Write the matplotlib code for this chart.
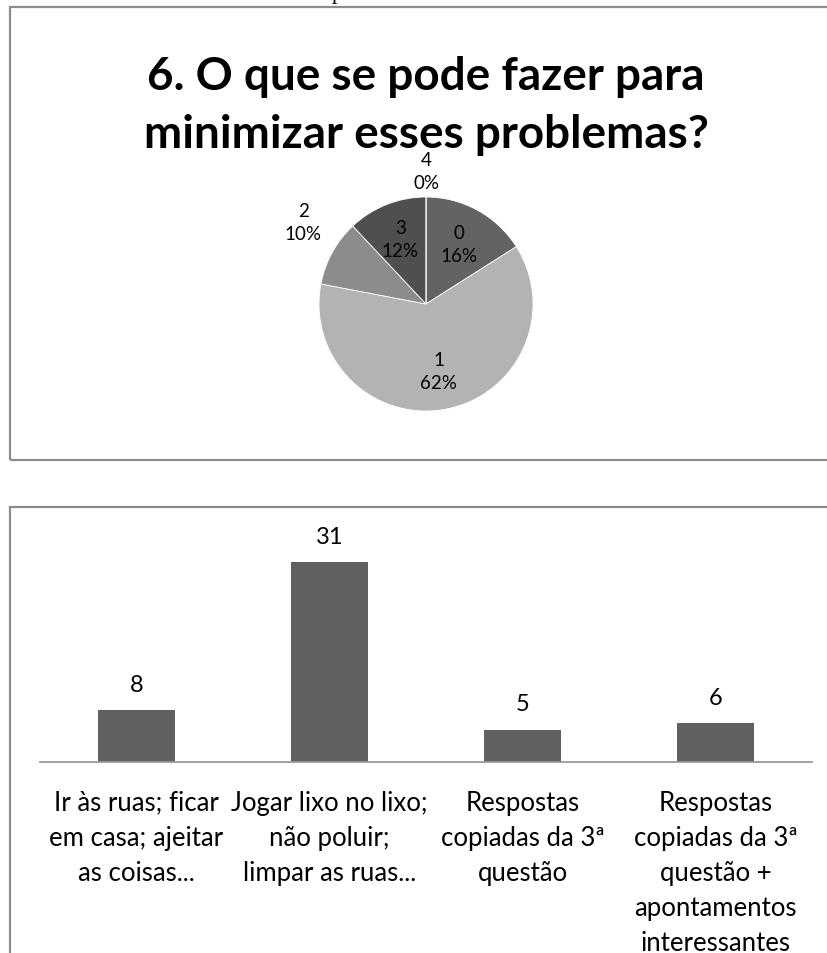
import matplotlib
matplotlib.use("Agg")
import matplotlib.pyplot as plt
import numpy as np
from matplotlib.patches import Rectangle

# answers to question 6
categories = [
    "Ir às ruas; ficar\nem casa; ajeitar\nas coisas...",
    "Jogar lixo no lixo;\nnão poluir;\nlimpar as ruas...",
    "Respostas\ncopiadas da 3ª\nquestão",
    "Respostas\ncopiadas da 3ª\nquestão +\napontamentos\ninteressantes",
]
counts = [8, 31, 5, 6]

# pie groups 0..4 (group 4 has no answers)
pie_labels = ["0", "1", "2", "3", "4"]
pie_values = [8, 31, 5, 6, 0]
pie_colors = ["#636363", "#b3b3b3", "#8c8c8c", "#4f4f4f", "#3a3a3a"]
# label placement: distance from centre (radii) and a small turn (degrees)
label_radius = [0.64, 0.64, 1.38, 0.65, 1.24]
label_turn = [0, 0, -5, 0, 0]

title = "6. O que se pode fazer para\nminimizar esses problemas?"

W, H = 827, 954
plt.rcParams["font.family"] = ["Lato", "DejaVu Sans"]
fig = plt.figure(figsize=(W / 100, H / 100), dpi=100)


def fx(px):
    return px / W


def fy(py):
    return 1 - py / H


# chart frames
frame_kw = dict(transform=fig.transFigure, fill=False, edgecolor="#8c8c8c",
                linewidth=1.6, clip_on=False)
fig.patches.append(Rectangle((fx(10), fy(461)), fx(830) - fx(10), fy(8) - fy(461), **frame_kw))
fig.patches.append(Rectangle((fx(10), fy(960)), fx(830) - fx(10), fy(508) - fy(960), **frame_kw))

# caption text running above the page edge
fig.text(fx(337), fy(-1), "p", family="Liberation Serif", fontsize=16,
         ha="center", va="baseline")

# --- pie ---
fig.text(fx(426), fy(106), title, ha="center", va="center", fontsize=33,
         fontweight="bold", linespacing=1.48)

cx, cy, r = 426, 305, 107
ax_pie = fig.add_axes([fx(cx - r), fy(cy + r), fx(2 * r), fy(cy - r) - fy(cy + r)])
wedges, _ = ax_pie.pie(pie_values, colors=pie_colors, startangle=90,
                       counterclock=False, radius=1,
                       wedgeprops=dict(edgecolor="white", linewidth=0.6))
ax_pie.set_xlim(-1, 1)
ax_pie.set_ylim(-1, 1)
ax_pie.set_aspect("auto")
ax_pie.axis("off")

total = sum(pie_values)
for w, lab, v, rr, turn in zip(wedges, pie_labels, pie_values, label_radius, label_turn):
    ang = np.deg2rad((w.theta1 + w.theta2) / 2 + turn)
    ax_pie.text(rr * np.cos(ang), rr * np.sin(ang),
                f"{lab}\n{round(100 * v / total)}%",
                ha="center", va="center", fontsize=13.5, linespacing=1.45,
                color="black")

# --- bars ---
ax_bar = fig.add_axes([fx(40), fy(763), fx(812) - fx(40), fy(520) - fy(763)])
x = np.arange(len(counts))
ax_bar.bar(x, counts, width=0.4, color="#606060")
ax_bar.set_xlim(-0.5, len(counts) - 0.5)
ax_bar.set_ylim(0, (763 - 520) / 6.45)
for xi, c in zip(x, counts):
    ax_bar.annotate(str(c), (xi, c), xytext=(0, 11), textcoords="offset points",
                    ha="center", va="bottom", fontsize=17)

ax_bar.set_xticks(x)
ax_bar.set_xticklabels(categories, fontsize=18.5, linespacing=1.5)
ax_bar.tick_params(axis="x", length=0, pad=20)
ax_bar.set_yticks([])
for s in ["top", "left", "right"]:
    ax_bar.spines[s].set_visible(False)
ax_bar.spines["bottom"].set_color("#999999")
ax_bar.spines["bottom"].set_linewidth(1.3)

fig.savefig("out.png", dpi=100)
